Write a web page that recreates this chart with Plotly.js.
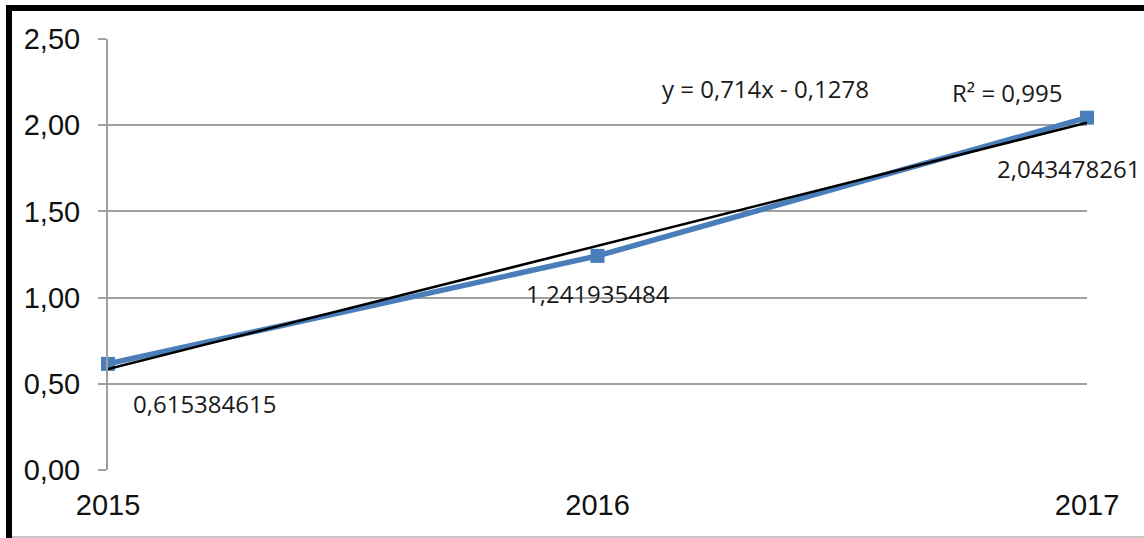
<!DOCTYPE html>
<html>
<head>
<meta charset="utf-8">
<script src="https://cdn.plot.ly/plotly-3.0.1.min.js"></script>
<style>
  html, body { margin: 0; padding: 0; background: #fff; }
  #wrap { position: relative; width: 1144px; height: 538px; overflow: hidden; }
  #chart { position: absolute; left: 0; top: 0; width: 1144px; height: 538px; }
  .bd { position: absolute; pointer-events: none; }
</style>
</head>
<body>
<div id="wrap">
  <div id="chart"></div>
  <div class="bd" style="left:6px;top:5px;width:1138px;height:6px;background:#000;"></div>
  <div class="bd" style="left:6px;top:5px;width:6px;height:533px;background:#000;"></div>
  <div class="bd" style="left:12px;top:536px;width:1132px;height:2px;background:#c8c8c8;"></div>
</div>
<script>
// Data
const years = ['2015', '2016', '2017'];
const values = [0.615384615, 1.241935484, 2.043478261];
const valueLabels = ['0,615384615', '1,241935484', '2,043478261'];
// Linear trend line (Excel): y = 0,714x - 0,1278, read at the end years
const trendYears = ['2015', '2017'];
const trendValues = [0.5862, 2.0142];
const equationText = 'y = 0,714x - 0,1278';
const r2Text = 'R² = 0,995';
const yTickVals = [0, 0.5, 1, 1.5, 2, 2.5];
const yTickText = ['0,00', '0,50', '1,00', '1,50', '2,00', '2,50'];

const labelShifts = [[96, -40], [0, -38], [-19, -51]];

const traces = [
  {
    x: years, y: values, type: 'scatter', mode: 'lines+markers',
    line: { color: '#4a7ebb', width: 5.5 },
    marker: { symbol: 'square', size: 14, color: '#4a7ebb' },
    cliponaxis: false,
    hoverinfo: 'skip', showlegend: false
  },
  {
    x: trendYears, y: trendValues, type: 'scatter', mode: 'lines',
    line: { color: '#000000', width: 2.5 },
    cliponaxis: false,
    hoverinfo: 'skip', showlegend: false
  }
];

// category axes: annotations are placed by category index
const annotations = years.map((yr, i) => ({
  x: i, y: values[i], xref: 'x', yref: 'y',
  text: valueLabels[i], showarrow: false,
  xanchor: 'center', yanchor: 'middle',
  xshift: labelShifts[i][0], yshift: labelShifts[i][1],
  font: { family: 'Open Sans, sans-serif', size: 24, color: '#1a1a1a' }
}));
annotations.push({
  x: 0.672, y: 0.886, xref: 'paper', yref: 'paper', text: equationText,
  xanchor: 'center', yanchor: 'middle',
  showarrow: false, font: { family: 'Open Sans, sans-serif', size: 24, color: '#1a1a1a' }
});
annotations.push({
  x: 0.918, y: 0.877, xref: 'paper', yref: 'paper', text: r2Text,
  xanchor: 'center', yanchor: 'middle',
  showarrow: false, font: { family: 'Open Sans, sans-serif', size: 24, color: '#1a1a1a' }
});

const layout = {
  width: 1144, height: 538,
  margin: { l: 108, r: 57, t: 39, b: 68, pad: 0 },
  paper_bgcolor: '#ffffff', plot_bgcolor: '#ffffff',
  font: { family: 'Liberation Sans, Arial, sans-serif', color: '#111' },
  xaxis: {
    type: 'category', range: [0, 2], showgrid: false, zeroline: false,
    showline: false, ticks: '',
    tickfont: { family: 'Liberation Sans, Arial, sans-serif', size: 29, color: '#111' },
    ticklabelstandoff: 15
  },
  yaxis: {
    range: [0, 2.5], tickvals: yTickVals, ticktext: yTickText,
    showgrid: true, gridcolor: '#a0a0a0', gridwidth: 2,
    zeroline: false, showline: true, linecolor: '#a0a0a0', linewidth: 2,
    ticks: 'outside', ticklen: 8, tickcolor: '#a0a0a0', tickwidth: 2,
    tickfont: { family: 'Liberation Sans, Arial, sans-serif', size: 29, color: '#111' },
    ticklabelstandoff: 12
  },
  annotations: annotations
};

Plotly.newPlot('chart', traces, layout, { staticPlot: true, displayModeBar: false });
</script>
</body>
</html>
